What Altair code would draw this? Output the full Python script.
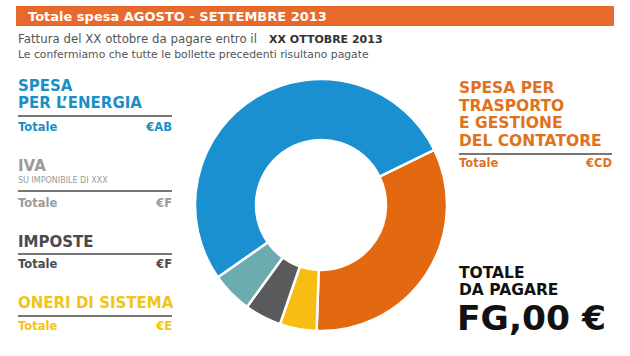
import altair as alt
import pandas as pd

# ---- data ----
categories = ["Trasporto e gestione", "Oneri di sistema", "Imposte", "IVA", "Energia"]
values = [118, 17, 17, 19, 189]
colors = ["#e2690f", "#f7bd12", "#5a5a5c", "#6cabb0", "#1b90d0"]

header = "Totale spesa AGOSTO - SETTEMBRE 2013"
line1_normal = "Fattura del XX ottobre da pagare entro il"
line1_bold = "XX OTTOBRE 2013"
line2 = "Le confermiamo che tutte le bollette precedenti risultano pagate"
left_titles = [["SPESA", "PER L\u2019ENERGIA"], ["IVA"], ["IMPOSTE"], ["ONERI DI SISTEMA"]]
left_amounts = ["\u20acAB", "\u20acF", "\u20acF", "\u20acE"]
right_title = ["SPESA PER", "TRASPORTO", "E GESTIONE", "DEL CONTATORE"]
right_amount = "\u20acCD"
total_label = ["TOTALE", "DA PAGARE"]
total_value = "FG,00 \u20ac"
iva_sub = "SU IMPONIBILE DI XXX"

FONT = "DejaVu Sans"
W, H = 630, 356
one = pd.DataFrame({"a": [0]})

df = pd.DataFrame({"cat": categories, "val": values, "order": list(range(len(values)))})

start = 1.117
donut = alt.Chart(df).mark_arc(innerRadius=65, outerRadius=126, stroke="white", strokeWidth=2.5).encode(
    theta=alt.Theta("val:Q", stack=True, scale=alt.Scale(range=[start, start + 6.2832])),
    color=alt.Color("cat:N", scale=alt.Scale(domain=categories, range=colors), legend=None),
    order=alt.Order("order:Q"),
    x=alt.value(321), y=alt.value(205),
)

layers = []

def rect(x, x2, y, y2, color):
    return alt.Chart(one).mark_rect(color=color).encode(
        x=alt.value(x), x2=alt.value(x2), y=alt.value(y), y2=alt.value(y2))

def rule(x, x2, y, color="#4a4a4a", w=1.5):
    return alt.Chart(one).mark_rule(color=color, strokeWidth=w).encode(
        x=alt.value(x), x2=alt.value(x2), y=alt.value(y))

def text(t, x, y, size, color, weight="bold", align="left", baseline="alphabetic", font=FONT):
    return alt.Chart(one).mark_text(text=t, font=font, fontSize=size, fontWeight=weight, color=color,
                                    align=align, baseline=baseline).encode(x=alt.value(x), y=alt.value(y))

layers.append(rect(16, 614, 6, 26, "#e8692c"))
layers.append(text(header, 28, 21, 13, "white"))
layers.append(text(line1_normal, 18, 43, 11.8, "#555555", weight="normal"))
layers.append(text(line1_bold, 269, 43, 11, "#333333"))
layers.append(text(line2, 18, 58, 10.8, "#555555", weight="normal"))

blue, grey_l, grey_d, yellow, orange = "#1a8fc4", "#9a9a9a", "#4a4a4c", "#f0c419", "#e0721e"
rule_col = "#4a4a4a"

TS = 15
VS = 11.5
# Energia
layers.append(text(left_titles[0][0], 18, 91, TS, blue))
layers.append(text(left_titles[0][1], 18, 108, TS, blue))
layers.append(rule(18, 172, 116, rule_col))
layers.append(text("Totale", 18, 131, VS, blue))
layers.append(text(left_amounts[0], 172, 131, VS, blue, align="right"))
# IVA
layers.append(text(left_titles[1][0], 18, 171, TS, grey_l))
layers.append(text(iva_sub, 18, 183, 8, grey_l, weight="normal"))
layers.append(rule(18, 172, 191, rule_col))
layers.append(text("Totale", 18, 207, VS, grey_l))
layers.append(text(left_amounts[1], 172, 207, VS, grey_l, align="right"))
# Imposte
layers.append(text(left_titles[2][0], 18, 247, TS, grey_d))
layers.append(rule(18, 172, 254, rule_col))
layers.append(text("Totale", 18, 268, VS, grey_d))
layers.append(text(left_amounts[2], 172, 268, VS, grey_d, align="right"))
# Oneri
layers.append(text(left_titles[3][0], 18, 308, TS, yellow))
layers.append(rule(18, 172, 316, rule_col))
layers.append(text("Totale", 18, 330, VS, yellow))
layers.append(text(left_amounts[3], 172, 330, VS, yellow, align="right"))

# Right
for i, t in enumerate(right_title):
    layers.append(text(t, 459, 93 + i * 17.7, 15.5, orange))
layers.append(rule(459, 612, 154, rule_col))
layers.append(text("Totale", 459, 167, VS, orange))
layers.append(text(right_amount, 612, 167, VS, orange, align="right"))

layers.append(text(total_label[0], 459, 278, 15.5, "#111111"))
layers.append(text(total_label[1], 459, 295, 15.5, "#111111"))
layers.append(text(total_value, 457, 330, 34.5, "#111111"))

chart = alt.layer(donut, *layers).properties(
    width=W, height=H, padding=0, autosize=alt.AutoSizeParams(type="none"),
    background="white",
).configure_view(stroke=None)

chart.save("out.html", embed_options={"renderer": "svg", "actions": False})
